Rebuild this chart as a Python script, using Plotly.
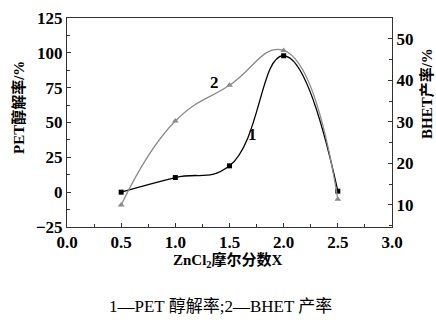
import plotly.graph_objects as go

x_vals = [0.5, 1.0, 1.5, 2.0, 2.5]
pet_conv = [0.0, 10.5, 18.9, 97.9, 0.7]      # left axis, %
bhet_yield = [10.0, 30.2, 38.8, 47.2, 11.4]  # right axis, %
x_ticks = [0.0, 0.5, 1.0, 1.5, 2.0, 2.5, 3.0]

FONT = "Liberation Serif, Noto Sans CJK SC"
TICKFONT = dict(family=FONT, size=17, color="black", weight="bold")
TITLEFONT = dict(family=FONT, size=15, color="black", weight="bold")

fig = go.Figure()
fig.add_trace(go.Scatter(
    x=x_vals, y=pet_conv, mode="lines+markers",
    line=dict(color="black", width=1.3, shape="spline", smoothing=1.3),
    marker=dict(symbol="square", size=5, color="black"),
    showlegend=False, cliponaxis=False))
fig.add_trace(go.Scatter(
    x=x_vals, y=bhet_yield, mode="lines+markers", yaxis="y2",
    line=dict(color="#8a8a8a", width=1.3, shape="spline", smoothing=1.3),
    marker=dict(symbol="triangle-up", size=6, color="#8a8a8a"),
    showlegend=False, cliponaxis=False))

axis_common = dict(showgrid=False, zeroline=False, linecolor="#333", linewidth=1,
                   showline=True, tickfont=TICKFONT, ticks="inside", ticklen=4,
                   tickcolor="#333", automargin=False)

fig.update_layout(
    width=436, height=320,
    margin=dict(l=67, r=44, t=18, b=93, autoexpand=False),
    paper_bgcolor="white", plot_bgcolor="white",
    xaxis=dict(range=[0, 3.0], tickvals=x_ticks, tickformat=".1f", mirror=True,
               minor=dict(ticks="inside", dtick=0.25, ticklen=3, tickcolor="#333"),
               **axis_common),
    yaxis=dict(range=[-25, 125], dtick=25, tick0=0,
               minor=dict(ticks="inside", dtick=12.5, ticklen=3, tickcolor="#333"),
               **axis_common),
    yaxis2=dict(range=[4.7, 55], dtick=10, tick0=0, overlaying="y", side="right",
                minor=dict(ticks="inside", dtick=5, ticklen=3, tickcolor="#333"),
                **axis_common),
    annotations=[
        dict(x=1.71, y=26.9, xref="x", yref="y2", text="1", showarrow=False,
             font=dict(family=FONT, size=17, color="black", weight="bold")),
        dict(x=1.36, y=39.5, xref="x", yref="y2", text="2", showarrow=False,
             font=dict(family=FONT, size=17, color="black", weight="bold")),
        # axis titles (pixel positions, converted below)
        dict(x=18, y=108, text="PET醇解率/%", showarrow=False, textangle=-90,
             font=TITLEFONT),
        dict(x=426, y=94, text="BHET产率/%", showarrow=False, textangle=-90,
             font=TITLEFONT),
        dict(x=228, y=260, text="ZnCl<sub>2</sub>摩尔分数X", showarrow=False,
             font=TITLEFONT),
        dict(x=220, y=306, text="1—PET 醇解率;2—BHET 产率", showarrow=False,
             font=dict(family=FONT, size=17, color="black")),
    ],
)

# convert pixel positions of the title annotations to paper coordinates
W, H = 436, 320
L, R, T, B = 67, 44, 18, 93
pw, ph = W - L - R, H - T - B
for a in fig.layout.annotations[2:]:
    px, py = a.x, a.y
    a.update(xref="paper", yref="paper", x=(px - L) / pw, y=1 - (py - T) / ph,
             xanchor="center", yanchor="middle")

fig.write_html("out.html", config={"displayModeBar": False},
               post_script="document.body.style.margin='0';document.body.style.overflow='hidden';")
